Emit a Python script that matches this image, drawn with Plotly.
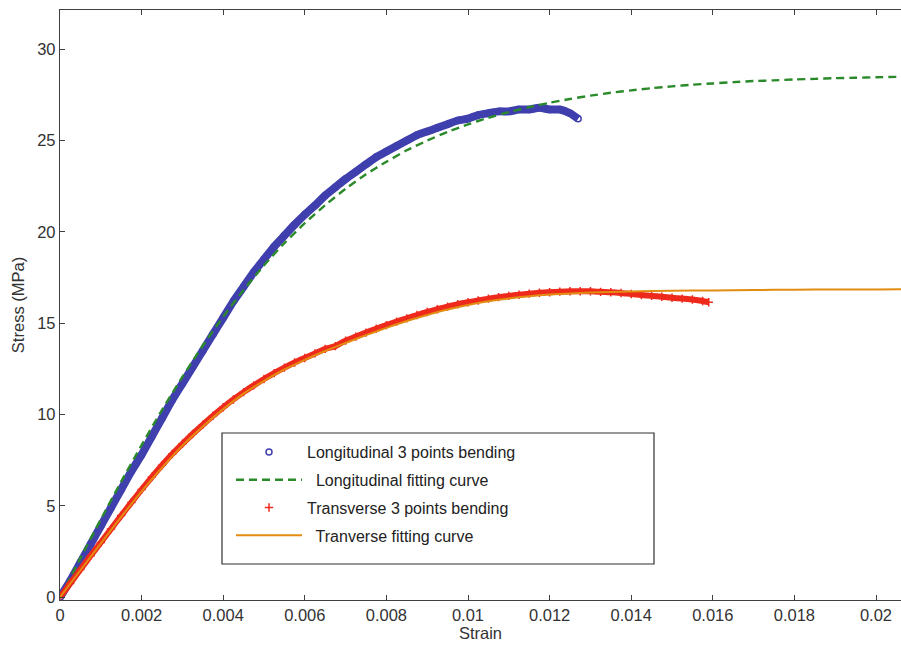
import plotly.graph_objects as go

# ---- data ----
long_strain = [0.0, 0.00025, 0.0005, 0.00075, 0.001, 0.00125, 0.0015, 0.00175, 0.002, 0.00225,
               0.0025, 0.00275, 0.003, 0.00325, 0.0035, 0.00375, 0.004, 0.00425, 0.0045, 0.00475,
               0.005, 0.00525, 0.0055, 0.00575, 0.006, 0.00625, 0.0065, 0.00675, 0.007, 0.00725,
               0.0075, 0.00775, 0.008, 0.00825, 0.0085, 0.00875, 0.009, 0.00925, 0.0095, 0.00975,
               0.01, 0.01025, 0.0105, 0.01075, 0.011, 0.01125, 0.0115, 0.01175, 0.012, 0.01225,
               0.0125, 0.0127]
long_stress = [0.0, 0.9, 1.9, 2.9, 3.9, 4.9, 5.9, 6.9, 7.8, 8.8,
               9.8, 10.8, 11.7, 12.6, 13.5, 14.4, 15.3, 16.2, 17.0, 17.8,
               18.5, 19.2, 19.8, 20.4, 20.95, 21.45, 22.0, 22.45, 22.9, 23.3,
               23.7, 24.1, 24.4, 24.7, 25.0, 25.3, 25.5, 25.7, 25.9, 26.1,
               26.2, 26.4, 26.5, 26.6, 26.6, 26.7, 26.7, 26.8, 26.7, 26.7,
               26.5, 26.2]

long_fit_strain = [0.0, 0.0005, 0.001, 0.0015, 0.002, 0.0025, 0.003, 0.0035, 0.004, 0.0045,
                   0.005, 0.0055, 0.006, 0.0065, 0.007, 0.0075, 0.008, 0.0085, 0.009, 0.0095,
                   0.01, 0.0105, 0.011, 0.0115, 0.012, 0.0125, 0.013, 0.0135, 0.014, 0.0145,
                   0.015, 0.0155, 0.016, 0.0165, 0.017, 0.0175, 0.018, 0.0185, 0.019, 0.0195,
                   0.02, 0.0205, 0.021]
long_fit_stress = [0.0, 2.14, 4.26, 6.33, 8.33, 10.25, 12.06, 13.77, 15.36, 16.82,
                   18.17, 19.39, 20.48, 21.47, 22.36, 23.16, 23.84, 24.47, 25.0, 25.48,
                   25.89, 26.25, 26.56, 26.83, 27.07, 27.28, 27.46, 27.62, 27.75, 27.87,
                   27.97, 28.06, 28.13, 28.2, 28.26, 28.3, 28.35, 28.38, 28.42, 28.44,
                   28.47, 28.49, 28.5]

trans_strain = [0.0, 0.00025, 0.0005, 0.00075, 0.001, 0.00125, 0.0015, 0.00175, 0.002, 0.00225,
                0.0025, 0.00275, 0.003, 0.00325, 0.0035, 0.00375, 0.004, 0.00425, 0.0045, 0.00475,
                0.005, 0.00525, 0.0055, 0.00575, 0.006, 0.00625, 0.0065, 0.00675, 0.007, 0.00725,
                0.0075, 0.00775, 0.008, 0.00825, 0.0085, 0.00875, 0.009, 0.00925, 0.0095, 0.00975,
                0.01, 0.01025, 0.0105, 0.01075, 0.011, 0.01125, 0.0115, 0.01175, 0.012, 0.01225,
                0.0125, 0.01275, 0.013, 0.01325, 0.0135, 0.01375, 0.014, 0.01425, 0.0145, 0.01475,
                0.015, 0.01525, 0.0155, 0.01575, 0.0159]
trans_stress = [0.0, 0.76, 1.52, 2.27, 3.0, 3.74, 4.47, 5.19, 5.9, 6.58,
                7.23, 7.84, 8.4, 8.94, 9.45, 9.94, 10.4, 10.83, 11.23, 11.6,
                11.95, 12.27, 12.57, 12.85, 13.1, 13.35, 13.6, 13.75, 14.05, 14.27,
                14.49, 14.7, 14.9, 15.09, 15.27, 15.45, 15.62, 15.77, 15.91, 16.04,
                16.15, 16.25, 16.35, 16.43, 16.5, 16.56, 16.62, 16.67, 16.7, 16.73,
                16.75, 16.75, 16.75, 16.72, 16.7, 16.66, 16.6, 16.55, 16.5, 16.45,
                16.4, 16.35, 16.3, 16.22, 16.15]

trans_fit_strain = [0.0, 0.0005, 0.001, 0.0015, 0.002, 0.0025, 0.003, 0.0035, 0.004, 0.0045,
                    0.005, 0.0055, 0.006, 0.0065, 0.007, 0.0075, 0.008, 0.0085, 0.009, 0.0095,
                    0.01, 0.0105, 0.011, 0.0115, 0.012, 0.0125, 0.013, 0.014, 0.015, 0.016,
                    0.017, 0.018, 0.019, 0.02, 0.021]
trans_fit_stress = [0.0, 1.48, 2.95, 4.4, 5.8, 7.1, 8.3, 9.35, 10.3, 11.15,
                    11.85, 12.47, 13.0, 13.48, 13.92, 14.35, 14.75, 15.12, 15.45, 15.75,
                    16.0, 16.2, 16.36, 16.48, 16.57, 16.63, 16.68, 16.74, 16.78, 16.8,
                    16.82, 16.84, 16.85, 16.85, 16.86]

x_ticks = [0, 0.002, 0.004, 0.006, 0.008, 0.01, 0.012, 0.014, 0.016, 0.018, 0.02]
x_tick_labels = ["0", "0.002", "0.004", "0.006", "0.008", "0.01", "0.012", "0.014", "0.016", "0.018", "0.02"]
y_ticks = [0, 5, 10, 15, 20, 25, 30]
y_tick_labels = ["0", "5", "10", "15", "20", "25", "30"]

BLUE = "#3f3fae"
GREEN = "#2a8a2a"
RED = "#ee2a1c"
ORANGE = "#e28c10"
AXC = "#404040"
FONT = "Liberation Sans, Arial, sans-serif"

fig = go.Figure()

# longitudinal data band + markers
fig.add_trace(go.Scatter(x=long_strain, y=long_stress, mode="lines",
                         line=dict(color=BLUE, width=8, shape="spline", smoothing=0.6), showlegend=False,
                         legendgroup="g1", hoverinfo="skip"))
fig.add_trace(go.Scatter(x=long_strain, y=long_stress, mode="markers",
                         marker=dict(symbol="circle-open", size=6, color=BLUE, line=dict(width=1.5)),
                         name="Longitudinal 3 points bending", legendgroup="g1"))
fig.add_trace(go.Scatter(x=long_fit_strain, y=long_fit_stress, mode="lines",
                         line=dict(color=GREEN, width=2.4, dash="8px,5px", shape="spline", smoothing=0.6),
                         name="  Longitudinal fitting curve", legendgroup="g2"))
fig.add_trace(go.Scatter(x=trans_strain, y=trans_stress, mode="lines",
                         line=dict(color=RED, width=6, shape="spline", smoothing=0.6), showlegend=False,
                         legendgroup="g3", hoverinfo="skip"))
fig.add_trace(go.Scatter(x=trans_strain, y=trans_stress, mode="markers",
                         marker=dict(symbol="cross-thin-open", size=6, color=RED, line=dict(width=1.5, color=RED)),
                         name="Transverse 3 points bending", legendgroup="g3"))
fig.add_trace(go.Scatter(x=trans_fit_strain, y=trans_fit_stress, mode="lines",
                         line=dict(color=ORANGE, width=2, shape="spline", smoothing=0.6),
                         name="  Tranverse fitting curve", legendgroup="g4"))

# legend frame (style only)
fig.add_shape(type="rect", xref="paper", yref="paper",
              x0=(222 - 60) / 841, x1=(654 - 60) / 841,
              y0=(600 - 564) / 590, y1=(600 - 433) / 590,
              line=dict(color="#303030", width=1.2), fillcolor="white", layer="below")

fig.update_layout(
    width=901, height=646,
    margin=dict(l=60, r=0, t=10, b=46),
    paper_bgcolor="white", plot_bgcolor="white",
    font=dict(family=FONT, size=16.5, color="#333333"),
    showlegend=True,
    legend=dict(x=(231 - 60) / 841, y=(600 - 435) / 590, xanchor="left", yanchor="top",
                bgcolor="rgba(0,0,0,0)", borderwidth=0,
                traceorder="grouped", tracegroupgap=4, itemwidth=66,
                font=dict(family=FONT, size=16, color="#222222")),
    xaxis=dict(range=[0, 841 / 40800], tickvals=x_ticks, ticktext=x_tick_labels,
               ticks="inside", ticklen=5, tickcolor=AXC, tickwidth=1.2,
               showline=True, linecolor=AXC, linewidth=1.4, mirror="ticks",
               showgrid=False, zeroline=False,
               tickfont=dict(size=16.5, color="#333333"),
               title=dict(text="Strain", standoff=3, font=dict(size=16.5, color="#333333"))),
    yaxis=dict(range=[-0.15, 32.15], tickvals=y_ticks, ticktext=y_tick_labels,
               ticks="inside", ticklen=5, tickcolor=AXC, tickwidth=1.2,
               showline=True, linecolor=AXC, linewidth=1.4,
               showgrid=False, zeroline=False,
               tickfont=dict(size=16.5, color="#333333"),
               title=dict(text="Stress (MPa)", standoff=8, font=dict(size=16.5, color="#333333"))),
)

fig.write_html("out.html")
